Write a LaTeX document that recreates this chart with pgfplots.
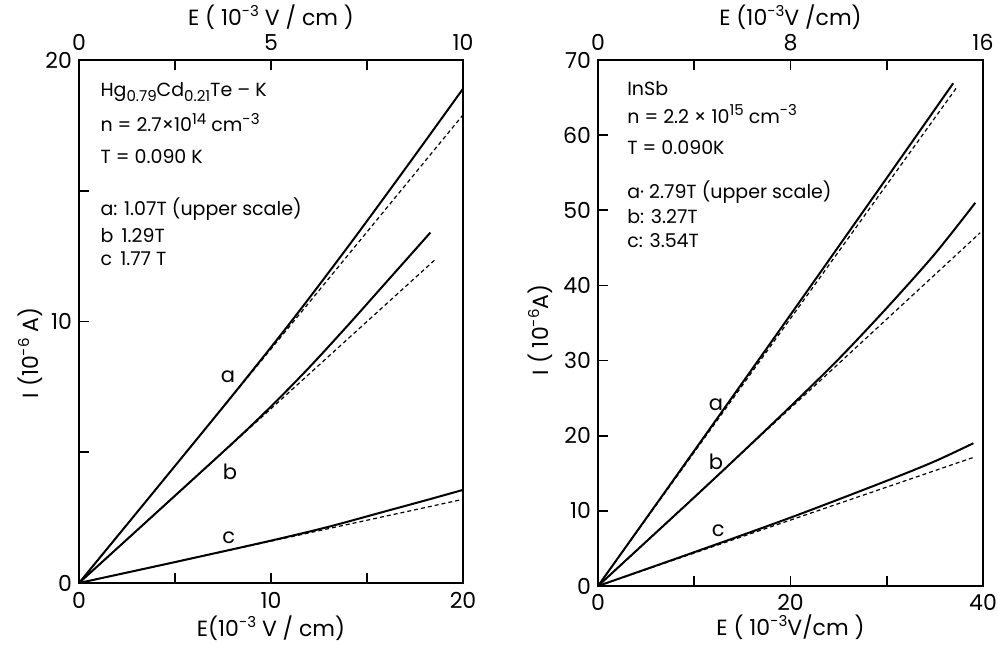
\documentclass[border=0pt]{standalone}
\usepackage{pgfplots}
\pgfplotsset{compat=1.18}
\usepackage{fontspec}
\setmainfont{Poppins}
\newcommand\sups[1]{\raisebox{0.75ex}{\fontsize{7.5}{8}\selectfont #1}}
\newcommand\subs[1]{\raisebox{-0.45ex}{\fontsize{7.5}{8}\selectfont #1}}
\tikzset{info/.style={anchor=base west, inner sep=0pt, font=\fontsize{9.5}{11}\selectfont}}

\begin{document}
\begin{tikzpicture}[font=\fontsize{10.5}{12}\selectfont]
\path[use as bounding box] (0,0) rectangle (499pt,322pt);
\pgfplotsset{
 base/.style={scale only axis, axis line style={line width=1pt},
   tick style={line width=0.8pt, black}, major tick length=5pt, tick align=inside,
   /pgf/number format/assume math mode=true,
   tick label style={font=\fontsize{11}{12}\selectfont},
   label style={font=\fontsize{11}{12}\selectfont}, clip=false},
 sol/.style={black, line width=1pt, no marks, smooth},
 das/.style={black, line width=0.6pt, dash pattern=on 2pt off 1.5pt, no marks},
}
% ---------------- left panel ----------------
\begin{axis}[base, at={(39.5pt,30.5pt)}, anchor=south west, width=192pt, height=261.5pt,
  xmin=0, xmax=20, ymin=0, ymax=20,
  xtick={0,5,10,15,20}, xticklabels={0,,10,,20},
  ytick={0,5,10,15,20}, yticklabels={0,,10,,20},
  xtick pos=left, ytick pos=left,
  xticklabel style={yshift=-1pt},
  xlabel={E(10\sups{-3} V / cm)},
  xlabel style={at={(axis description cs:0.5,-0.086)}, anchor=center},
  ylabel={I (10\sups{-6} A)},
  ylabel style={at={(axis description cs:-0.128,0.44)}, anchor=center}]
\addplot[sol] coordinates {(0,0) (4,3.58) (8,7.18) (11,9.95) (14,12.85) (17,15.85) (20,18.9)};
\addplot[das] coordinates {(0,0) (20,17.9)};
\addplot[sol] coordinates {(0,0) (4,2.67) (8,5.35) (10,6.75) (12,8.25) (14,9.85) (16,11.5) (18.3,13.4)};
\addplot[das] coordinates {(0,0) (18.6,12.4)};
\addplot[sol] coordinates {(0,0) (5,0.8) (10,1.62) (13,2.15) (16,2.75) (18,3.15) (20,3.56)};
\addplot[das] coordinates {(0,0) (20,3.2)};
\node at (axis cs:7.76,7.88) {a};
\node at (axis cs:7.86,4.24) {b};
\node at (axis cs:7.8,1.72) {c};
\node[info] at (axis cs:1.1,18.59) {Hg\subs{0.79}Cd\subs{0.21}Te – K};
\node[info] at (axis cs:1.1,17.25) {n = 2.7×10\sups{14} cm\sups{-3}};
\node[info] at (axis cs:1.1,16.06) {T = 0.090 K};
\node[info] at (axis cs:1.1,14.07) {a: 1.07T (upper scale)};
\node[info] at (axis cs:1.1,13.04) {b\, 1.29T};
\node[info] at (axis cs:1.1,12.16) {c\, 1.77 T};
\end{axis}
\begin{axis}[base, at={(39.5pt,30.5pt)}, anchor=south west, width=192pt, height=261.5pt,
  xmin=0, xmax=10, ymin=0, ymax=20,
  axis x line*=top, axis y line=none,
  xtick={0,2.5,5,7.5,10}, xticklabels={0,,5,,10}, ytick=\empty,
  xticklabel style={yshift=1pt},
  xlabel={E ( 10\sups{-3} V / cm )},
  xlabel style={at={(axis description cs:0.5,1.082)}, anchor=center}]
\end{axis}
% ---------------- right panel ----------------
\begin{axis}[base, at={(299pt,29pt)}, anchor=south west, width=192.5pt, height=263pt,
  xmin=0, xmax=40, ymin=0, ymax=70,
  xtick={0,10,20,30,40}, xticklabels={0,,20,,40},
  ytick={0,10,...,70}, yticklabels={0,10,20,30,40,50,60,70},
  xtick pos=left, ytick pos=left,
  xticklabel style={yshift=-0.5pt},
  xlabel={E ( 10\sups{-3}V/cm )},
  xlabel style={at={(axis description cs:0.5,-0.078)}, anchor=center},
  ylabel={I ( 10\sups{-6}A)},
  ylabel style={at={(axis description cs:-0.1506,0.487)}, anchor=center}]
\addplot[sol] coordinates {(0,0) (10,18.0) (20,36.1) (30,54.3) (36.9,66.9)};
\addplot[das] coordinates {(0,0) (37.3,66.4)};
\addplot[sol] coordinates {(0,0) (10,11.8) (15,17.8) (20,23.9) (25,30.2) (30,37.0) (35,44.2) (39.2,51.0)};
\addplot[das] coordinates {(0,0) (39.7,47.0)};
\addplot[sol] coordinates {(0,0) (10,4.5) (20,9.1) (30,14.0) (35,16.6) (39,19.0)};
\addplot[das] coordinates {(0,0) (39.2,17.2)};
\node at (axis cs:12.26,24.1) {a};
\node at (axis cs:12.26,16.5) {b};
\node at (axis cs:12.5,7.4) {c};
\node[info] at (axis cs:3.0,65.3) {InSb};
\node[info] at (axis cs:3.0,61.6) {n = 2.2 × 10\sups{15} cm\sups{-3}};
\node[info] at (axis cs:3.0,57.4) {T = 0.090K};
\node[info] at (axis cs:3.0,51.6) {a· 2.79T (upper scale)};
\node[info] at (axis cs:3.0,48.3) {b: 3.27T};
\node[info] at (axis cs:3.0,45.1) {c: 3.54T};
\end{axis}
\begin{axis}[base, at={(299pt,29pt)}, anchor=south west, width=192.5pt, height=263pt,
  xmin=0, xmax=16, ymin=0, ymax=70,
  axis x line*=top, axis y line=none,
  xtick={0,4,8,12,16}, xticklabels={0,,8,,16}, ytick=\empty,
  xticklabel style={yshift=1pt},
  xlabel={E (10\sups{-3}V /cm)},
  xlabel style={at={(axis description cs:0.5,1.082)}, anchor=center}]
\end{axis}
\end{tikzpicture}
\end{document}
